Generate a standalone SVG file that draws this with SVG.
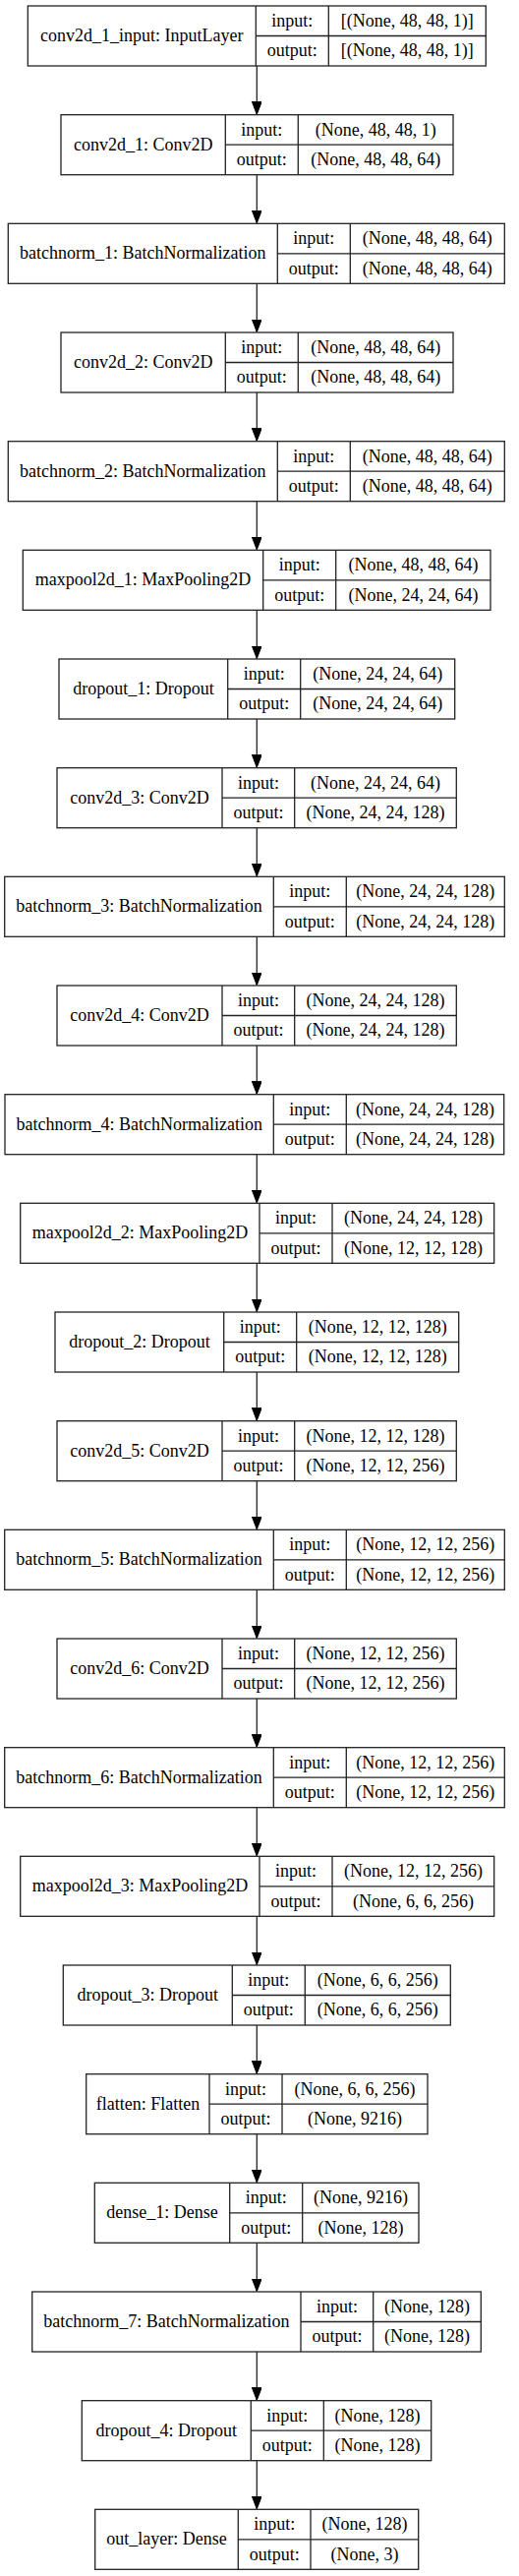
<svg xmlns="http://www.w3.org/2000/svg" width="528" height="2619" viewBox="0 0 528 2619">
<style>
.bx{fill:#fff;stroke:#222;stroke-width:1.3}
.dv{fill:none;stroke:#222;stroke-width:1.3}
.e{stroke:#222;stroke-width:1.3;fill:none}
text{font-family:"Liberation Serif","Times New Roman",serif;font-size:18px;text-anchor:middle;fill:#000}
</style>
<defs>
<marker id="ah" markerUnits="userSpaceOnUse" markerWidth="14" markerHeight="11" refX="13" refY="5" orient="auto">
<path d="M0,0 L13,5 L0,10 Z" fill="#000" stroke="#000" stroke-width="1"/>
</marker>
</defs>
<rect width="528" height="2619" fill="#fff"/>
<g id="edges">
<line class="e" x1="261.3" y1="67" x2="261.3" y2="116.2" marker-end="url(#ah)"/>
<line class="e" x1="261.3" y1="177.7" x2="261.3" y2="226.8" marker-end="url(#ah)"/>
<line class="e" x1="261.3" y1="288.3" x2="261.3" y2="337.5" marker-end="url(#ah)"/>
<line class="e" x1="261.3" y1="399" x2="261.3" y2="448.2" marker-end="url(#ah)"/>
<line class="e" x1="261.3" y1="509.7" x2="261.3" y2="558.8" marker-end="url(#ah)"/>
<line class="e" x1="261.3" y1="620.3" x2="261.3" y2="669.5" marker-end="url(#ah)"/>
<line class="e" x1="261.3" y1="731" x2="261.3" y2="780.2" marker-end="url(#ah)"/>
<line class="e" x1="261.3" y1="841.7" x2="261.3" y2="890.8" marker-end="url(#ah)"/>
<line class="e" x1="261.3" y1="952.3" x2="261.3" y2="1001.5" marker-end="url(#ah)"/>
<line class="e" x1="261.3" y1="1063" x2="261.3" y2="1112.2" marker-end="url(#ah)"/>
<line class="e" x1="261.3" y1="1173.7" x2="261.3" y2="1222.8" marker-end="url(#ah)"/>
<line class="e" x1="261.3" y1="1284.3" x2="261.3" y2="1333.5" marker-end="url(#ah)"/>
<line class="e" x1="261.3" y1="1395" x2="261.3" y2="1444.2" marker-end="url(#ah)"/>
<line class="e" x1="261.3" y1="1505.7" x2="261.3" y2="1554.8" marker-end="url(#ah)"/>
<line class="e" x1="261.3" y1="1616.3" x2="261.3" y2="1665.5" marker-end="url(#ah)"/>
<line class="e" x1="261.3" y1="1727" x2="261.3" y2="1776.2" marker-end="url(#ah)"/>
<line class="e" x1="261.3" y1="1837.7" x2="261.3" y2="1886.8" marker-end="url(#ah)"/>
<line class="e" x1="261.3" y1="1948.3" x2="261.3" y2="1997.5" marker-end="url(#ah)"/>
<line class="e" x1="261.3" y1="2059" x2="261.3" y2="2108.2" marker-end="url(#ah)"/>
<line class="e" x1="261.3" y1="2169.7" x2="261.3" y2="2218.8" marker-end="url(#ah)"/>
<line class="e" x1="261.3" y1="2280.3" x2="261.3" y2="2329.5" marker-end="url(#ah)"/>
<line class="e" x1="261.3" y1="2391" x2="261.3" y2="2440.2" marker-end="url(#ah)"/>
<line class="e" x1="261.3" y1="2501.7" x2="261.3" y2="2550.8" marker-end="url(#ah)"/>
</g>
<g id="n0">
<rect class="bx" x="28.3" y="6" width="466" height="61"/>
<path class="dv" d="M260.3,6V67M334.3,6V67M260.3,36.5H494.3"/>
<text x="144.3" y="42">conv2d_1_input: InputLayer</text>
<text x="297.3" y="26.8">input:</text><text x="414.3" y="26.8">[(None, 48, 48, 1)]</text>
<text x="297.3" y="57.3">output:</text><text x="414.3" y="57.3">[(None, 48, 48, 1)]</text>
</g>
<g id="n1">
<rect class="bx" x="62" y="116.7" width="399" height="61"/>
<path class="dv" d="M229.3,116.7V177.7M303.3,116.7V177.7M229.3,147.2H461"/>
<text x="145.7" y="152.7">conv2d_1: Conv2D</text>
<text x="266.3" y="137.5">input:</text><text x="382.2" y="137.5">(None, 48, 48, 1)</text>
<text x="266.3" y="168">output:</text><text x="382.2" y="168">(None, 48, 48, 64)</text>
</g>
<g id="n2">
<rect class="bx" x="8.3" y="227.3" width="505" height="61"/>
<path class="dv" d="M282.3,227.3V288.3M356.3,227.3V288.3M282.3,257.8H513.3"/>
<text x="145.3" y="263.3">batchnorm_1: BatchNormalization</text>
<text x="319.3" y="248.1">input:</text><text x="434.8" y="248.1">(None, 48, 48, 64)</text>
<text x="319.3" y="278.6">output:</text><text x="434.8" y="278.6">(None, 48, 48, 64)</text>
</g>
<g id="n3">
<rect class="bx" x="62" y="338" width="399" height="61"/>
<path class="dv" d="M229.3,338V399M303.3,338V399M229.3,368.5H461"/>
<text x="145.7" y="374">conv2d_2: Conv2D</text>
<text x="266.3" y="358.8">input:</text><text x="382.2" y="358.8">(None, 48, 48, 64)</text>
<text x="266.3" y="389.3">output:</text><text x="382.2" y="389.3">(None, 48, 48, 64)</text>
</g>
<g id="n4">
<rect class="bx" x="8.3" y="448.7" width="505" height="61"/>
<path class="dv" d="M282.3,448.7V509.7M356.3,448.7V509.7M282.3,479.2H513.3"/>
<text x="145.3" y="484.7">batchnorm_2: BatchNormalization</text>
<text x="319.3" y="469.5">input:</text><text x="434.8" y="469.5">(None, 48, 48, 64)</text>
<text x="319.3" y="500">output:</text><text x="434.8" y="500">(None, 48, 48, 64)</text>
</g>
<g id="n5">
<rect class="bx" x="23.3" y="559.3" width="475.7" height="61"/>
<path class="dv" d="M267.7,559.3V620.3M341.7,559.3V620.3M267.7,589.8H499"/>
<text x="145.5" y="595.3">maxpool2d_1: MaxPooling2D</text>
<text x="304.7" y="580.1">input:</text><text x="420.4" y="580.1">(None, 48, 48, 64)</text>
<text x="304.7" y="610.6">output:</text><text x="420.4" y="610.6">(None, 24, 24, 64)</text>
</g>
<g id="n6">
<rect class="bx" x="60" y="670" width="402.7" height="61"/>
<path class="dv" d="M231.7,670V731M305.7,670V731M231.7,700.5H462.7"/>
<text x="145.9" y="706">dropout_1: Dropout</text>
<text x="268.7" y="690.8">input:</text><text x="384.2" y="690.8">(None, 24, 24, 64)</text>
<text x="268.7" y="721.3">output:</text><text x="384.2" y="721.3">(None, 24, 24, 64)</text>
</g>
<g id="n7">
<rect class="bx" x="58" y="780.7" width="406.3" height="61"/>
<path class="dv" d="M226,780.7V841.7M299.7,780.7V841.7M226,811.2H464.3"/>
<text x="142" y="816.7">conv2d_3: Conv2D</text>
<text x="262.9" y="801.5">input:</text><text x="382" y="801.5">(None, 24, 24, 64)</text>
<text x="262.9" y="832">output:</text><text x="382" y="832">(None, 24, 24, 128)</text>
</g>
<g id="n8">
<rect class="bx" x="4.7" y="891.3" width="508.6" height="61"/>
<path class="dv" d="M278.3,891.3V952.3M352.3,891.3V952.3M278.3,921.8H513.3"/>
<text x="141.5" y="927.3">batchnorm_3: BatchNormalization</text>
<text x="315.3" y="912.1">input:</text><text x="432.8" y="912.1">(None, 24, 24, 128)</text>
<text x="315.3" y="942.6">output:</text><text x="432.8" y="942.6">(None, 24, 24, 128)</text>
</g>
<g id="n9">
<rect class="bx" x="58" y="1002" width="406.3" height="61"/>
<path class="dv" d="M226,1002V1063M299.7,1002V1063M226,1032.5H464.3"/>
<text x="142" y="1038">conv2d_4: Conv2D</text>
<text x="262.9" y="1022.8">input:</text><text x="382" y="1022.8">(None, 24, 24, 128)</text>
<text x="262.9" y="1053.3">output:</text><text x="382" y="1053.3">(None, 24, 24, 128)</text>
</g>
<g id="n10">
<rect class="bx" x="5" y="1112.7" width="507.7" height="61"/>
<path class="dv" d="M278.3,1112.7V1173.7M352.3,1112.7V1173.7M278.3,1143.2H512.7"/>
<text x="141.7" y="1148.7">batchnorm_4: BatchNormalization</text>
<text x="315.3" y="1133.5">input:</text><text x="432.5" y="1133.5">(None, 24, 24, 128)</text>
<text x="315.3" y="1164">output:</text><text x="432.5" y="1164">(None, 24, 24, 128)</text>
</g>
<g id="n11">
<rect class="bx" x="20.7" y="1223.3" width="482" height="61"/>
<path class="dv" d="M264,1223.3V1284.3M338,1223.3V1284.3M264,1253.8H502.7"/>
<text x="142.4" y="1259.3">maxpool2d_2: MaxPooling2D</text>
<text x="301" y="1244.1">input:</text><text x="420.4" y="1244.1">(None, 24, 24, 128)</text>
<text x="301" y="1274.6">output:</text><text x="420.4" y="1274.6">(None, 12, 12, 128)</text>
</g>
<g id="n12">
<rect class="bx" x="56" y="1334" width="410.7" height="61"/>
<path class="dv" d="M227.7,1334V1395M301.7,1334V1395M227.7,1364.5H466.7"/>
<text x="141.9" y="1370">dropout_2: Dropout</text>
<text x="264.7" y="1354.8">input:</text><text x="384.2" y="1354.8">(None, 12, 12, 128)</text>
<text x="264.7" y="1385.3">output:</text><text x="384.2" y="1385.3">(None, 12, 12, 128)</text>
</g>
<g id="n13">
<rect class="bx" x="58" y="1444.7" width="406.3" height="61"/>
<path class="dv" d="M226,1444.7V1505.7M299.7,1444.7V1505.7M226,1475.2H464.3"/>
<text x="142" y="1480.7">conv2d_5: Conv2D</text>
<text x="262.9" y="1465.5">input:</text><text x="382" y="1465.5">(None, 12, 12, 128)</text>
<text x="262.9" y="1496">output:</text><text x="382" y="1496">(None, 12, 12, 256)</text>
</g>
<g id="n14">
<rect class="bx" x="4.7" y="1555.3" width="508.6" height="61"/>
<path class="dv" d="M278.3,1555.3V1616.3M352.3,1555.3V1616.3M278.3,1585.8H513.3"/>
<text x="141.5" y="1591.3">batchnorm_5: BatchNormalization</text>
<text x="315.3" y="1576.1">input:</text><text x="432.8" y="1576.1">(None, 12, 12, 256)</text>
<text x="315.3" y="1606.6">output:</text><text x="432.8" y="1606.6">(None, 12, 12, 256)</text>
</g>
<g id="n15">
<rect class="bx" x="58" y="1666" width="406.3" height="61"/>
<path class="dv" d="M226,1666V1727M299.7,1666V1727M226,1696.5H464.3"/>
<text x="142" y="1702">conv2d_6: Conv2D</text>
<text x="262.9" y="1686.8">input:</text><text x="382" y="1686.8">(None, 12, 12, 256)</text>
<text x="262.9" y="1717.3">output:</text><text x="382" y="1717.3">(None, 12, 12, 256)</text>
</g>
<g id="n16">
<rect class="bx" x="4.7" y="1776.7" width="508.6" height="61"/>
<path class="dv" d="M278.3,1776.7V1837.7M352.3,1776.7V1837.7M278.3,1807.2H513.3"/>
<text x="141.5" y="1812.7">batchnorm_6: BatchNormalization</text>
<text x="315.3" y="1797.5">input:</text><text x="432.8" y="1797.5">(None, 12, 12, 256)</text>
<text x="315.3" y="1828">output:</text><text x="432.8" y="1828">(None, 12, 12, 256)</text>
</g>
<g id="n17">
<rect class="bx" x="20.7" y="1887.3" width="482" height="61"/>
<path class="dv" d="M264,1887.3V1948.3M338,1887.3V1948.3M264,1917.8H502.7"/>
<text x="142.4" y="1923.3">maxpool2d_3: MaxPooling2D</text>
<text x="301" y="1908.1">input:</text><text x="420.4" y="1908.1">(None, 12, 12, 256)</text>
<text x="301" y="1938.6">output:</text><text x="420.4" y="1938.6">(None, 6, 6, 256)</text>
</g>
<g id="n18">
<rect class="bx" x="64.3" y="1998" width="394" height="61"/>
<path class="dv" d="M236.3,1998V2059M310.3,1998V2059M236.3,2028.5H458.3"/>
<text x="150.3" y="2034">dropout_3: Dropout</text>
<text x="273.3" y="2018.8">input:</text><text x="384.3" y="2018.8">(None, 6, 6, 256)</text>
<text x="273.3" y="2049.3">output:</text><text x="384.3" y="2049.3">(None, 6, 6, 256)</text>
</g>
<g id="n19">
<rect class="bx" x="87.7" y="2108.7" width="347.3" height="61"/>
<path class="dv" d="M213,2108.7V2169.7M287,2108.7V2169.7M213,2139.2H435"/>
<text x="150.4" y="2144.7">flatten: Flatten</text>
<text x="250" y="2129.5">input:</text><text x="361" y="2129.5">(None, 6, 6, 256)</text>
<text x="250" y="2160">output:</text><text x="361" y="2160">(None, 9216)</text>
</g>
<g id="n20">
<rect class="bx" x="96.3" y="2219.3" width="329.7" height="61"/>
<path class="dv" d="M233.7,2219.3V2280.3M307.7,2219.3V2280.3M233.7,2249.8H426"/>
<text x="165" y="2255.3">dense_1: Dense</text>
<text x="270.7" y="2240.1">input:</text><text x="366.9" y="2240.1">(None, 9216)</text>
<text x="270.7" y="2270.6">output:</text><text x="366.9" y="2270.6">(None, 128)</text>
</g>
<g id="n21">
<rect class="bx" x="32.7" y="2330" width="456.6" height="61"/>
<path class="dv" d="M306,2330V2391M379.7,2330V2391M306,2360.5H489.3"/>
<text x="169.4" y="2366">batchnorm_7: BatchNormalization</text>
<text x="342.9" y="2350.8">input:</text><text x="434.5" y="2350.8">(None, 128)</text>
<text x="342.9" y="2381.3">output:</text><text x="434.5" y="2381.3">(None, 128)</text>
</g>
<g id="n22">
<rect class="bx" x="83.3" y="2440.7" width="355.4" height="61"/>
<path class="dv" d="M255.3,2440.7V2501.7M329.3,2440.7V2501.7M255.3,2471.2H438.7"/>
<text x="169.3" y="2476.7">dropout_4: Dropout</text>
<text x="292.3" y="2461.5">input:</text><text x="384" y="2461.5">(None, 128)</text>
<text x="292.3" y="2492">output:</text><text x="384" y="2492">(None, 128)</text>
</g>
<g id="n23">
<rect class="bx" x="96.7" y="2551.3" width="329" height="61"/>
<path class="dv" d="M242.3,2551.3V2612.3M316,2551.3V2612.3M242.3,2581.8H425.7"/>
<text x="169.5" y="2587.3">out_layer: Dense</text>
<text x="279.2" y="2572.1">input:</text><text x="370.9" y="2572.1">(None, 128)</text>
<text x="279.2" y="2602.6">output:</text><text x="370.9" y="2602.6">(None, 3)</text>
</g>
</svg>
